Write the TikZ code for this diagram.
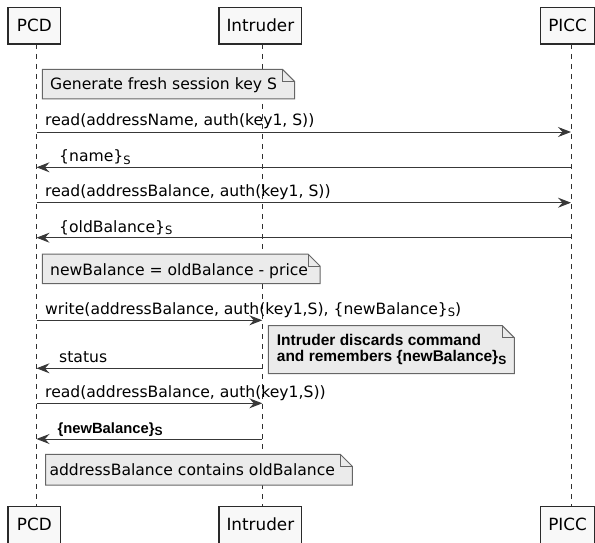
\documentclass[tikz,border=0pt]{standalone}
\usepackage{fontspec}
\setmainfont{DejaVu Sans}
\newfontfamily\arialf{Liberation Sans}
\usetikzlibrary{arrows.meta}
\definecolor{partfill}{HTML}{F8F8F8}
\definecolor{partline}{HTML}{2A2A2A}
\definecolor{lifecol}{HTML}{303030}
\definecolor{notefill}{HTML}{EBEBEB}
\definecolor{noteline}{HTML}{666666}
\definecolor{msgline}{HTML}{383838}
\newcommand\subS[1][11.5]{\raisebox{-2.5pt}{\fontsize{#1}{#1}\selectfont S}}
\newcommand\mynote[4]{%
  \draw[notebox] (#1,#2) -- ({#3-12},#2) -- (#3,{#2+12}) -- (#3,#4) -- (#1,#4) -- cycle;
  \draw[notebox, fill=none] ({#3-12},#2) -- ({#3-12},{#2+12}) -- (#3,{#2+12});}
\tikzset{
  part/.style={draw=partline, line width=1.1pt, fill=partfill, inner sep=0pt,
    minimum height=36.7pt, font=\fontsize{16.8}{18}\selectfont},
  lifeline/.style={draw=lifecol, line width=0.7pt, dash pattern=on 5pt off 5pt},
  msg/.style={draw=msgline, line width=1pt, -{Stealth[length=13pt,width=10pt,inset=4.5pt]}},
  lbl/.style={anchor=base west, inner sep=0pt, font=\fontsize{15.6}{18}\selectfont},
  boldlbl/.style={anchor=base west, inner sep=0pt, font=\arialf\bfseries\fontsize{14.8}{16}\selectfont},
  notebox/.style={draw=noteline, fill=notefill, line width=1pt},
  notetext/.style={anchor=base west, inner sep=0pt, font=\fontsize{15.6}{18}\selectfont},
  boldnote/.style={anchor=base west, inner sep=0pt, font=\arialf\bfseries\fontsize{15.5}{16}\selectfont},
}
\begin{document}
\begin{tikzpicture}[x=1pt,y=-1pt]
\useasboundingbox (0,0) rectangle (595,543);
% lifeline ends
\coordinate (lpT) at (36.5,44); \coordinate (lpB) at (36.5,506.3);
\coordinate (liT) at (262.3,44); \coordinate (liB) at (262.3,506.3);
\coordinate (lcT) at (571,44); \coordinate (lcB) at (571,506.3);
\draw[lifeline] (lpT) -- (lpB);
\draw[lifeline] (liT) -- (liB);
\draw[lifeline] (lcT) -- (lcB);
% participants
\node[part, minimum width=52.7pt] (pcdT) at (34.35,25.65) {PCD};
\node[part, minimum width=82.7pt] (intT) at (260.35,25.65) {Intruder};
\node[part, minimum width=53.8pt] (picT) at (567.6,25.65) {PICC};
\node[part, minimum width=52.7pt] (pcdB) at (34.35,524.7) {PCD};
\node[part, minimum width=82.7pt] (intB) at (260.35,524.7) {Intruder};
\node[part, minimum width=53.8pt] (picB) at (567.6,524.7) {PICC};
% notes
\mynote{42.3}{69.3}{294.5}{99}
\mynote{42.3}{254}{320}{283.7}
\mynote{268.3}{325.7}{514.3}{373.7}
\mynote{45.7}{454.3}{352.3}{485}
\node[notetext] (n1) at (50,90) {Generate fresh session key S};
\node[notetext] (n2) at (50,275) {newBalance = oldBalance - price};
\node[boldnote] (n3a) at (276.7,345.7) {Intruder discards command};
\node[boldnote] (n3b) at (276.7,361.7) {and remembers \{newBalance\}\subS[12]};
\node[notetext] (n4) at (49.3,475) {addressBalance contains oldBalance};
% message anchor points
\coordinate (p1) at (36.5,132);   \coordinate (c1) at (571,132);
\coordinate (p2) at (36.5,167.3); \coordinate (c2) at (571,167.3);
\coordinate (p3) at (36.5,202.7); \coordinate (c3) at (571,202.7);
\coordinate (p4) at (36.5,237.7); \coordinate (c4) at (571,237.7);
\coordinate (p5) at (36.5,320.3); \coordinate (i5) at (262.3,320.3);
\coordinate (p6) at (36.5,368.3); \coordinate (i6) at (262.3,368.3);
\coordinate (p7) at (36.5,403.3); \coordinate (i7) at (262.3,403.3);
\coordinate (p8) at (36.5,439);   \coordinate (i8) at (262.3,439);
\draw[msg] (p1) -- (c1);
\draw[msg] (c2) -- (p2);
\draw[msg] (p3) -- (c3);
\draw[msg] (c4) -- (p4);
\draw[msg] (p5) -- (i5);
\draw[msg] (i6) -- (p6);
\draw[msg] (p7) -- (i7);
\draw[msg] (i8) -- (p8);
\node[lbl] (m1) at (45,125.5) {read(addressName, auth(key1, S))};
\node[lbl] (m2) at (59,161.8) {\{name\}\subS};
\node[lbl] (m3) at (45,196.5) {read(addressBalance, auth(key1, S))};
\node[lbl] (m4) at (59,232.2) {\{oldBalance\}\subS};
\node[lbl] (m5) at (45,314) {write(addressBalance, auth(key1,S), \{newBalance\}\subS)};
\node[lbl] (m6) at (59,362.3) {status};
\node[lbl] (m7) at (45,397) {read(addressBalance, auth(key1,S))};
\node[boldlbl] (m8) at (57.3,433.3) {\{newBalance\}\subS[12]};
\end{tikzpicture}
\end{document}
